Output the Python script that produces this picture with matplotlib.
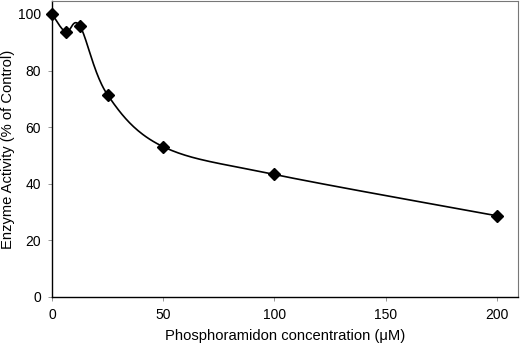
import numpy as np
import matplotlib
matplotlib.use("Agg")
import matplotlib.pyplot as plt

plt.rcParams['font.family'] = ['Liberation Sans', 'DejaVu Sans']

# phosphoramidon concentration (uM) and enzyme activity (% of control)
conc = [0, 6.25, 12.5, 25, 50, 100, 200]
activity = [100, 93.6, 95.8, 71.4, 53.1, 43.3, 28.7]
x_ticks = [0, 50, 100, 150, 200]
y_ticks = [0, 20, 40, 60, 80, 100]


def smooth_curve(ax, xs, ys, n=40):
    # Excel-style smoothed line: Catmull-Rom Bezier in screen space
    pts = ax.transData.transform(np.column_stack([xs, ys]))
    p = np.vstack([pts[0], pts, pts[-1]])
    out = []
    t = np.linspace(0, 1, n)[:, None]
    for i in range(1, len(p) - 2):
        p0, p1, p2, p3 = p[i - 1], p[i], p[i + 1], p[i + 2]
        c1 = p1 + (p2 - p0) / 6
        c2 = p2 - (p3 - p1) / 6
        seg = ((1 - t) ** 3) * p1 + 3 * ((1 - t) ** 2) * t * c1 + 3 * (1 - t) * t ** 2 * c2 + t ** 3 * p2
        out.append(seg)
    out = np.vstack(out)
    return ax.transData.inverted().transform(out)


fig = plt.figure(figsize=(5.2, 3.48), dpi=100)
ax = fig.add_axes([0.1, 0.1466, 0.896, 0.8506])
ax.set_xlim(0, 209.5)
ax.set_ylim(0, 104.6)

curve = smooth_curve(ax, conc, activity)
ax.plot(curve[:, 0], curve[:, 1], color='black', lw=1.2, zorder=2)
ax.plot(conc, activity, linestyle='none', marker='D', markersize=6.5,
        color='black', zorder=3, clip_on=False)

ax.set_xticks(x_ticks)
ax.set_yticks(y_ticks)
ax.tick_params(labelsize=10, length=3, width=0.6, color='#888888', pad=5)
for s in ['left', 'bottom']:
    ax.spines[s].set_color('black')
    ax.spines[s].set_linewidth(1.0)
for s in ['top', 'right']:
    ax.spines[s].set_color('#777777')
    ax.spines[s].set_linewidth(0.8)

ax.set_xlabel('Phosphoramidon concentration (\u03bcM)', fontsize=10.6)
ax.set_ylabel('Enzyme Activity (% of Control)', fontsize=10.6)
ax.xaxis.set_label_coords(0.5, -0.108)
ax.yaxis.set_label_coords(-0.079, 0.5)

fig.savefig('out.png', dpi=100)
